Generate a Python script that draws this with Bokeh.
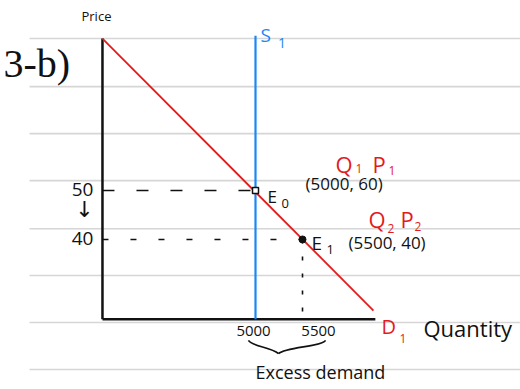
from bokeh.plotting import figure
from bokeh.models import Range1d
from bokeh.core.properties import value
from bokeh.embed import file_html
from bokeh.resources import INLINE

# ---- data (quantity, price) ----
q_origin = 3372
p_origin = 23.7
q_axis_end = 6275
p_axis_top = 81.0
demand_q = [3372, 6255]
demand_p = [81.0, 25.5]
supply_q = 5000
supply_p = [23.7, 81.6]
q_eq, p_eq = 5000, 50
q_new, p_new = 5500, 40
q_ticks = [5000, 5500]
q_tick_labels = ["5000", "5500"]
p_ticks = [50, 40]
p_tick_labels = ["50", "40"]
ruled_p = [81.0, 71.2, 61.6, 52.0, 42.2, 32.65, 23.05, 13.45]
ruled_q = [2596, 8000]
brace_q = [4925, 5245, 5745]
brace_p = [19.4, 16.7]

BLACK = "#111111"
RED = "#e31b1b"
BLUE = "#1a87f5"
FONT = "Open Sans"

p = figure(width=520, height=389, output_backend="svg", toolbar_location=None,
           x_axis_location=None, y_axis_location=None, min_border=0,
           x_range=Range1d(2287.2, 7819.1), y_range=Range1d(9.38, 88.77))
p.grid.visible = False
p.outline_line_color = None
p.background_fill_color = "white"

# ruled notebook lines
p.segment(x0=[ruled_q[0]] * len(ruled_p), x1=[ruled_q[1]] * len(ruled_p),
          y0=ruled_p, y1=ruled_p, line_color="#d6d6d6", line_width=1.6)

# axes
p.segment(x0=[q_origin, q_origin], y0=[p_origin, p_origin],
          x1=[q_origin, q_axis_end], y1=[p_axis_top, p_origin],
          line_color=BLACK, line_width=2.5)

# dashed guides
p.segment(x0=[q_origin], y0=[p_eq], x1=[q_eq], y1=[p_eq],
          line_color=BLACK, line_width=1.6, line_dash="12 22")
p.segment(x0=[q_origin], y0=[p_new], x1=[q_new], y1=[p_new],
          line_color=BLACK, line_width=1.6, line_dash="6 22")
p.segment(x0=[q_new], y0=[p_new], x1=[q_new], y1=[p_origin],
          line_color=BLACK, line_width=1.6, line_dash="4 13")

# supply and demand
p.segment(x0=[supply_q], y0=[supply_p[0]], x1=[supply_q], y1=[supply_p[1]],
          line_color=BLUE, line_width=2.2)
p.line(demand_q, demand_p, line_color=RED, line_width=1.8)

# equilibrium points
p.scatter([q_eq], [p_eq], marker="square", size=6, fill_color="white",
          line_color=BLACK, line_width=1.5)
p.scatter([q_new], [p_new], marker="circle", size=7, fill_color=BLACK,
          line_color=BLACK)

# brace for excess demand
p.bezier(x0=[brace_q[0], brace_q[2]], y0=[brace_p[0], brace_p[0]],
         x1=[brace_q[1], brace_q[1]], y1=[brace_p[1], brace_p[1]],
         cx0=[brace_q[0] + 40, brace_q[2] - 40], cy0=[brace_p[1] + 1.4, brace_p[1] + 1.4],
         cx1=[brace_q[1] - 80, brace_q[1] + 80], cy1=[brace_p[1] + 1.4, brace_p[1] + 1.4],
         line_color=BLACK, line_width=1.6)


def label(x, y, txt, size, color=BLACK, align="left", baseline="alphabetic",
          font=FONT):
    p.text(x=[x], y=[y], text=[txt], text_font=value(font),
           text_font_size=f"{size}px", text_color=color, text_align=align,
           text_baseline=baseline)


# titles
label(3308, 85.7, "Price", 13, align="center", baseline="middle")
label(2319, 75.9, "3-b)", 40, baseline="middle", font="Liberation Sans Narrow")
label(5053, 81.8, "S", 19, BLUE)
label(5240, 80.0, "1", 14, BLUE)

# point labels
label(5127, 48.8, "E", 17)
label(5276, 47.4, "0", 13)
label(5532, 51.4, "(5000, 60)", 17, baseline="middle")
label(5851, 55.5, "Q", 22, RED)
label(6064, 54.5, "1", 12, RED)
label(6244, 55.5, "P", 22, RED)
label(6415, 54.1, "1", 12, RED)

label(5596, 39.2, "E", 19)
label(5755, 38.0, "1", 13)
label(5989, 39.4, "(5500, 40)", 17, baseline="middle")
label(6202, 44.1, "Q", 22, RED)
label(6404, 42.2, "2", 12, RED)
label(6542, 44.1, "P", 22, RED)
label(6691, 42.7, "2", 12, RED)

# axis tick labels
for pv, t in zip(p_ticks, p_tick_labels):
    label(3276, pv + 0.2, t, 19, align="right", baseline="middle")
label(3181, 46.1, "\u2193", 22, align="center", baseline="middle",
      font="DejaVu Sans")
label(4979, 21.4, q_tick_labels[0], 15, align="center", baseline="middle")
label(5670, 21.4, q_tick_labels[1], 15, align="center", baseline="middle")

label(5691, 12.85, "Excess demand", 18, align="center", baseline="middle")
label(6340, 22.25, "D", 20, RED)
label(6532, 19.8, "1", 12, RED)
label(6787, 22.0, "Quantity", 22)

open("out.html", "w").write(file_html(p, INLINE))
